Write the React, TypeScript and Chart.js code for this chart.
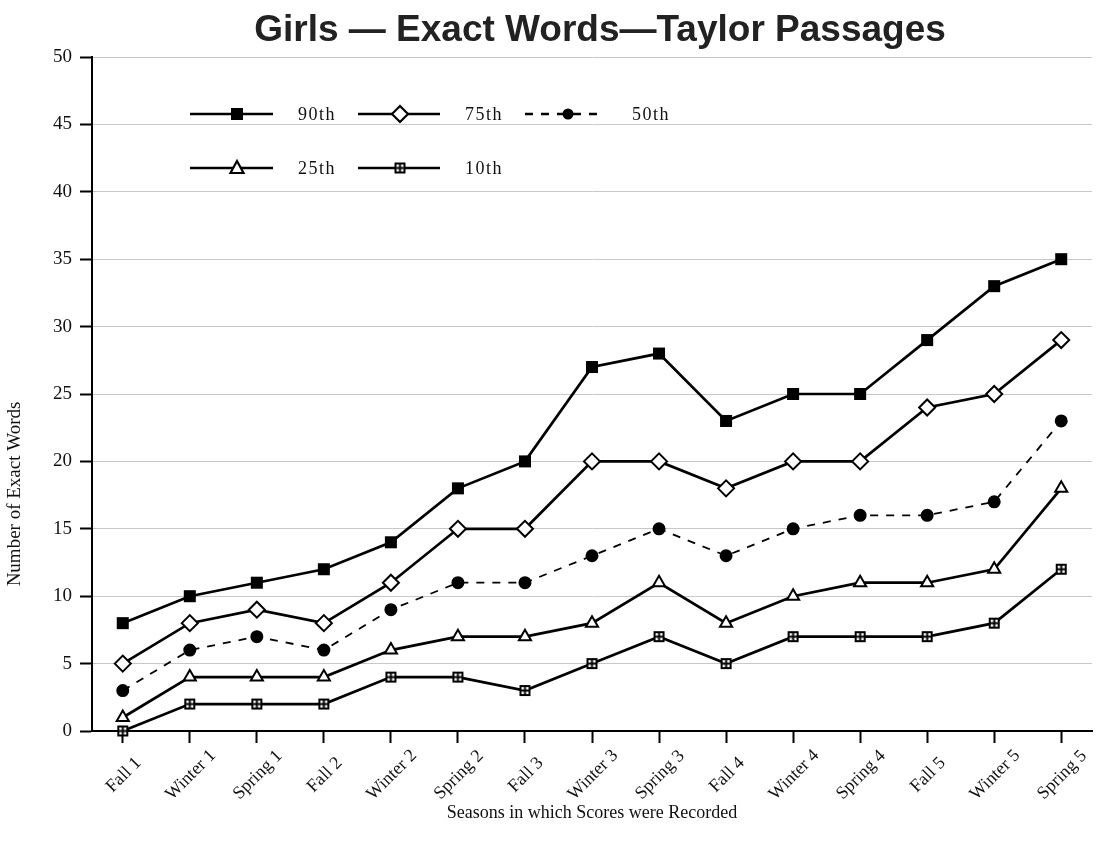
import React, { useEffect, useRef } from 'react';
import { Chart, registerables } from 'chart.js';

Chart.register(...registerables);

const categories = ['Fall 1', 'Winter 1', 'Spring 1', 'Fall 2', 'Winter 2', 'Spring 2', 'Fall 3', 'Winter 3', 'Spring 3', 'Fall 4', 'Winter 4', 'Spring 4', 'Fall 5', 'Winter 5', 'Spring 5'];
const p90 = [8, 10, 11, 12, 14, 18, 20, 27, 28, 23, 25, 25, 29, 33, 35];
const p75 = [5, 8, 9, 8, 11, 15, 15, 20, 20, 18, 20, 20, 24, 25, 29];
const p50 = [3, 6, 7, 6, 9, 11, 11, 13, 15, 13, 15, 16, 16, 17, 23];
const p25 = [1, 4, 4, 4, 6, 7, 7, 8, 11, 8, 10, 11, 11, 12, 18];
const p10 = [0, 2, 2, 2, 4, 4, 3, 5, 7, 5, 7, 7, 7, 8, 12];
const seriesNames = ['90th', '75th', '50th', '25th', '10th'];
const yTickValues = [0, 5, 10, 15, 20, 25, 30, 35, 40, 45, 50];
const chartTitle = 'Girls — Exact Words—Taylor Passages';
const yTitle = 'Number of Exact Words';
const xTitle = 'Seasons in which Scores were Recorded';

const SERIF = '"Liberation Serif", "Times New Roman", serif';
const SANS = '"Liberation Sans", Arial, sans-serif';

function makeBoxPlus(): HTMLCanvasElement {
  const c = document.createElement('canvas');
  c.width = 13;
  c.height = 13;
  const g = c.getContext('2d')!;
  g.fillStyle = '#fff';
  g.fillRect(1, 1, 11, 11);
  g.strokeStyle = '#000';
  g.lineWidth = 2;
  g.strokeRect(2, 2, 9, 9);
  g.beginPath();
  g.moveTo(6.5, 2);
  g.lineTo(6.5, 11);
  g.moveTo(2, 6.5);
  g.lineTo(11, 6.5);
  g.stroke();
  return c;
}

function drawMarker(ctx: CanvasRenderingContext2D, kind: string, x: number, y: number, boxPlus: HTMLCanvasElement) {
  ctx.save();
  ctx.lineWidth = 2.2;
  ctx.strokeStyle = '#000';
  ctx.setLineDash([]);
  if (kind === 'square') {
    ctx.fillStyle = '#000';
    ctx.fillRect(x - 6, y - 6, 12, 12);
  } else if (kind === 'diamond') {
    ctx.fillStyle = '#fff';
    ctx.beginPath();
    ctx.moveTo(x, y - 8);
    ctx.lineTo(x + 8, y);
    ctx.lineTo(x, y + 8);
    ctx.lineTo(x - 8, y);
    ctx.closePath();
    ctx.fill();
    ctx.stroke();
  } else if (kind === 'circle') {
    ctx.fillStyle = '#000';
    ctx.beginPath();
    ctx.arc(x, y, 5.5, 0, Math.PI * 2);
    ctx.fill();
  } else if (kind === 'triangle') {
    ctx.fillStyle = '#fff';
    ctx.beginPath();
    ctx.moveTo(x, y - 7);
    ctx.lineTo(x + 6.5, y + 5);
    ctx.lineTo(x - 6.5, y + 5);
    ctx.closePath();
    ctx.fill();
    ctx.stroke();
  } else if (kind === 'boxplus') {
    ctx.drawImage(boxPlus, x - boxPlus.width / 2, y - boxPlus.height / 2);
  }
  ctx.restore();
}

export default function App() {
  const ref = useRef<HTMLCanvasElement>(null);

  useEffect(() => {
    if (!ref.current) return;
    const boxPlus = makeBoxPlus();
    const toXY = (arr: number[]) => arr.map((v, i) => ({ x: i, y: v }));

    const legendItems = [
      { name: seriesNames[0], kind: 'square', dash: false, x1: 190, x2: 273, mx: 237, tx: 298, y: 114 },
      { name: seriesNames[1], kind: 'diamond', dash: false, x1: 358, x2: 440, mx: 400, tx: 465, y: 114 },
      { name: seriesNames[2], kind: 'circle', dash: true, x1: 525, x2: 600, mx: 568, tx: 632, y: 114 },
      { name: seriesNames[3], kind: 'triangle', dash: false, x1: 190, x2: 273, mx: 237, tx: 298, y: 168 },
      { name: seriesNames[4], kind: 'boxplus', dash: false, x1: 358, x2: 440, mx: 400, tx: 465, y: 168 },
    ];

    const decorPlugin = {
      id: 'decor',
      afterDraw(chart: any) {
        const ctx: CanvasRenderingContext2D = chart.ctx;
        const xs = chart.scales.x;
        const area = chart.chartArea;
        ctx.save();
        // title
        ctx.fillStyle = '#222';
        ctx.font = `bold 37px ${SANS}`;
        ctx.textAlign = 'center';
        ctx.textBaseline = 'alphabetic';
        ctx.fillText(chartTitle, 600, 41);

        // legend
        legendItems.forEach((it) => {
          ctx.strokeStyle = '#000';
          ctx.lineWidth = 2.6;
          ctx.setLineDash(it.dash ? [8, 8] : []);
          ctx.beginPath();
          ctx.moveTo(it.x1, it.y);
          ctx.lineTo(it.x2, it.y);
          ctx.stroke();
          ctx.setLineDash([]);
          drawMarker(ctx, it.kind, it.mx, it.y, boxPlus);
          ctx.fillStyle = '#111';
          ctx.font = `18px ${SERIF}`;
          (ctx as any).letterSpacing = '1.5px';
          ctx.textBaseline = 'middle';
          ctx.textAlign = 'left';
          ctx.fillText(it.name, it.tx, it.y + 1);
          (ctx as any).letterSpacing = '0px';
        });

        // x tick labels, rotated about their centres
        ctx.font = `18px ${SERIF}`;
        ctx.fillStyle = '#111';
        ctx.textAlign = 'center';
        ctx.textBaseline = 'middle';
        categories.forEach((label, i) => {
          const px = xs.getPixelForValue(i);
          ctx.save();
          ctx.translate(px + 1, area.bottom + 44);
          ctx.rotate(-Math.PI / 4);
          ctx.fillText(label, 0, 0);
          ctx.restore();
        });

        // rotated y-axis title
        ctx.save();
        ctx.translate(15, 494);
        ctx.rotate(-Math.PI / 2);
        ctx.font = `19px ${SERIF}`;
        ctx.fillStyle = '#111';
        ctx.textAlign = 'center';
        ctx.textBaseline = 'middle';
        ctx.fillText(yTitle, 0, 0);
        ctx.restore();
        ctx.restore();
      },
    };

    const common = {
      borderColor: '#000',
      borderWidth: 2.7,
      pointBorderColor: '#000',
      pointBorderWidth: 2,
      fill: false,
      tension: 0,
      clip: false as any,
    };

    const chart = new Chart(ref.current, {
      type: 'line',
      data: {
        datasets: [
          { ...common, label: seriesNames[0], data: toXY(p90), pointStyle: 'rect', pointRadius: 8.5, pointBackgroundColor: '#000', pointBorderWidth: 0 },
          { ...common, label: seriesNames[1], data: toXY(p75), pointStyle: 'rectRot', pointRadius: 8, pointBackgroundColor: '#fff' },
          { ...common, label: seriesNames[2], data: toXY(p50), pointStyle: 'circle', pointRadius: 5.5, pointBackgroundColor: '#000', borderWidth: 1.8, borderDash: [8, 8] },
          { ...common, label: seriesNames[3], data: toXY(p25), pointStyle: 'triangle', pointRadius: 7, pointBackgroundColor: '#fff' },
          { ...common, label: seriesNames[4], data: toXY(p10), pointStyle: boxPlus as any, pointRadius: 7, pointBackgroundColor: '#fff' },
        ],
      },
      options: {
        animation: false,
        responsive: true,
        maintainAspectRatio: false,
        layout: { padding: { left: 0, right: 2, top: 57, bottom: 0 } },
        plugins: {
          legend: { display: false },
          tooltip: { enabled: false },
          title: { display: false },
        },
        scales: {
          x: {
            type: 'linear',
            min: -0.459,
            max: 14.459,
            afterBuildTicks: (scale: any) => {
              scale.ticks = categories.map((_, i) => ({ value: i }));
            },
            afterFit: (scale: any) => {
              scale.height = 121;
            },
            border: { color: '#000', width: 2 },
            grid: { drawOnChartArea: false, drawTicks: true, tickLength: 12, tickColor: '#000', tickWidth: 2 },
            ticks: {
              display: false,
              autoSkip: false,
              includeBounds: false,
            },
            title: {
              display: true,
              text: xTitle,
              color: '#111',
              font: { family: SERIF, size: 18 },
              padding: { top: 0, bottom: 28 },
            },
          },
          y: {
            min: 0,
            max: 50,
            afterBuildTicks: (scale: any) => {
              scale.ticks = yTickValues.map((v) => ({ value: v }));
            },
            afterFit: (scale: any) => {
              scale.width = 92;
            },
            border: { color: '#000', width: 2 },
            grid: { color: '#c8c8c8', lineWidth: 1, tickLength: 12, tickColor: '#000', tickWidth: 2 },
            ticks: {
              padding: 8,
              color: '#111',
              font: { family: SERIF, size: 19 },
            },
            title: { display: false },
          },
        },
      },
      plugins: [decorPlugin],
    } as any);

    return () => chart.destroy();
  }, []);

  return (
    <div style={{ position: 'fixed', left: 0, top: 0, width: 1102, height: 852, background: '#fff' }}>
      <canvas ref={ref} />
    </div>
  );
}
